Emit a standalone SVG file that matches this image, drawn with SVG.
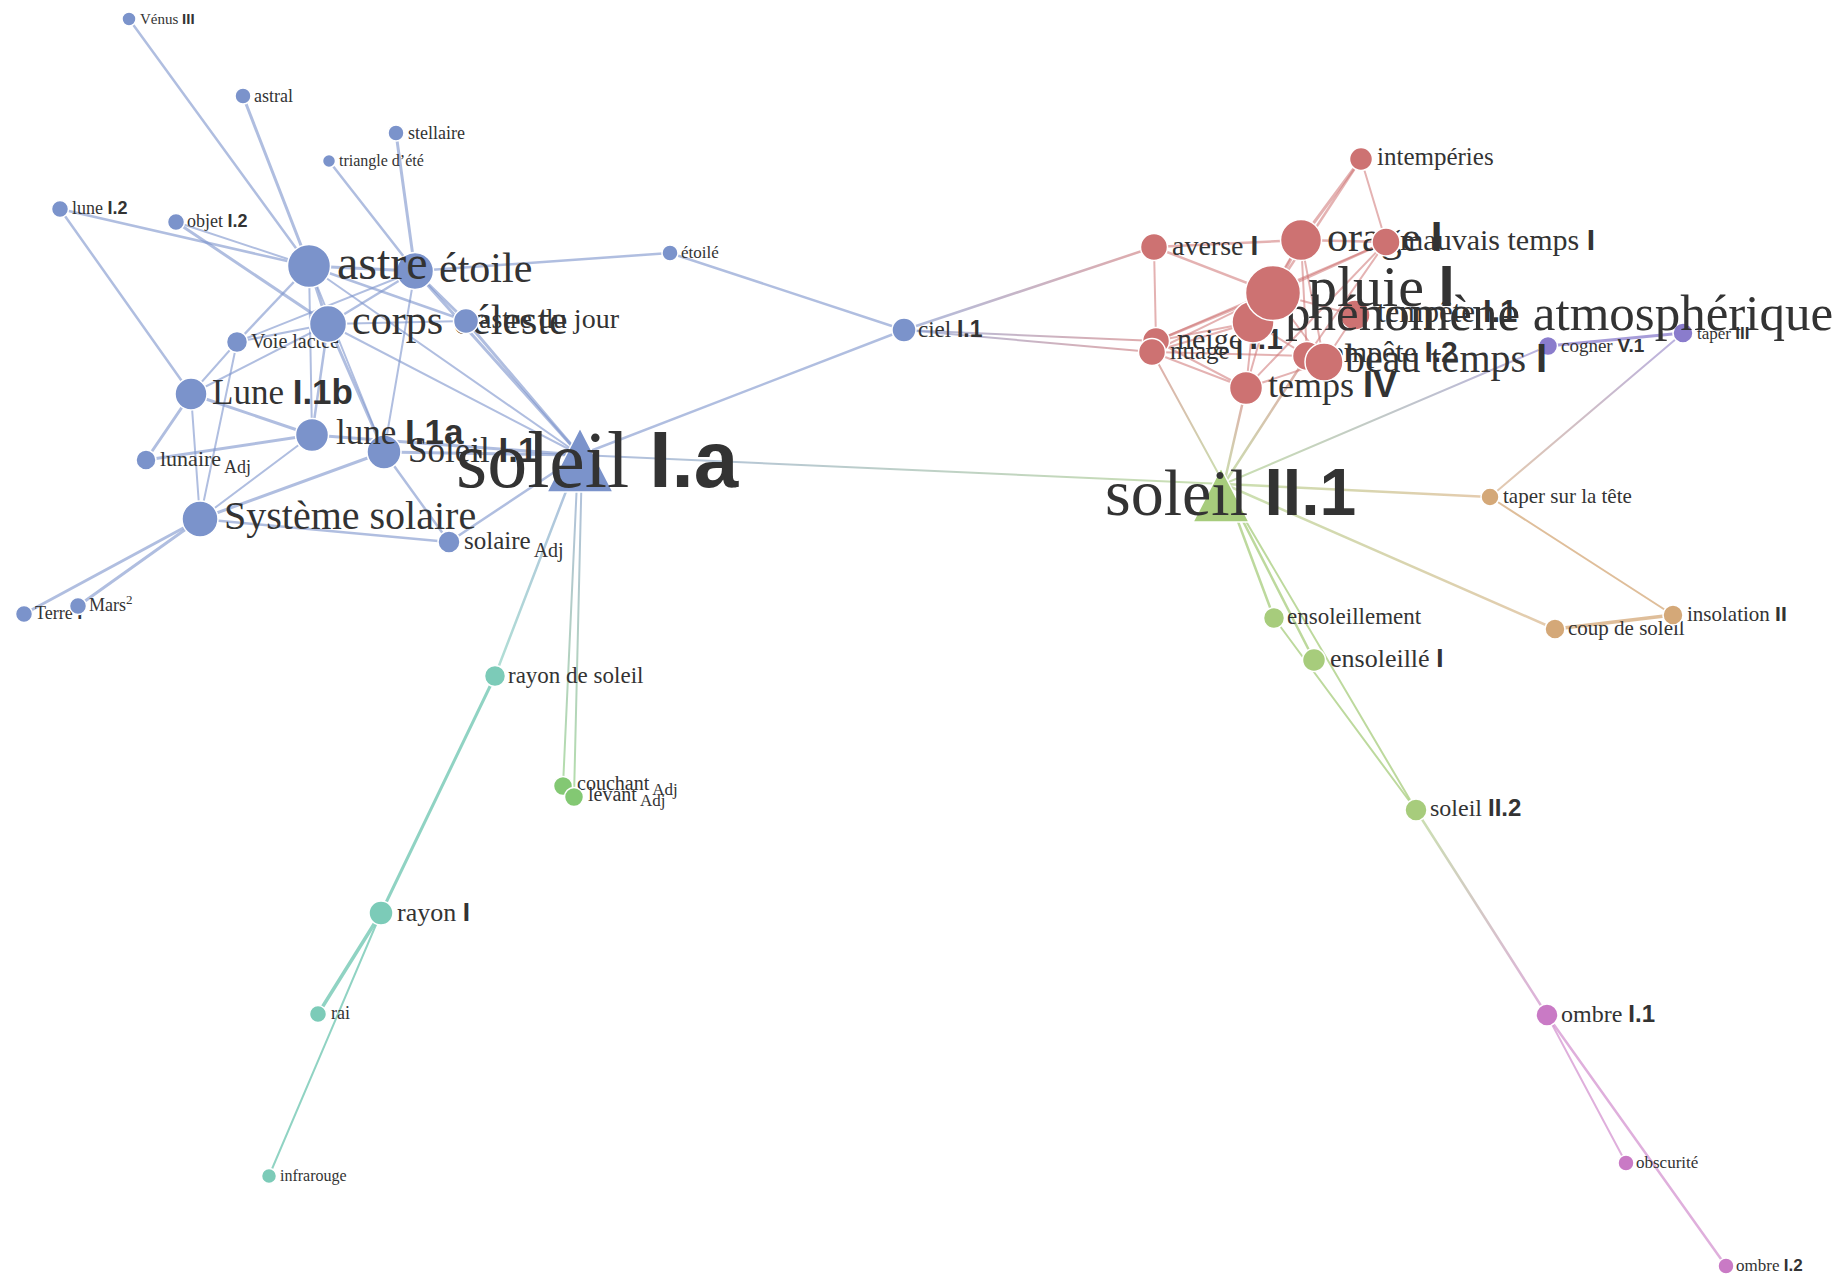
<svg xmlns="http://www.w3.org/2000/svg" width="1848" height="1274" viewBox="0 0 1848 1274">
<style>
text{font-family:"Liberation Serif","Times New Roman",serif;fill:#333;}
.s{font-family:"Liberation Sans",Arial,sans-serif;font-weight:bold;}
circle,polygon{stroke:#fff;stroke-width:1.5;}
.nb{fill:#7b93cb}.nr{fill:#cd7272}.nt{fill:#7ccbb8}.ng{fill:#a7cc7c}.ng2{fill:#83c873}.nn{fill:#d4a878}.np{fill:#8a7ccc}.nm{fill:#c97ac5}
line{stroke-linecap:round;fill:none;}
.eb{stroke:#7b93cb;stroke-opacity:.6}
.er{stroke:#cd7272;stroke-opacity:.55}
.et{stroke:#7ccbb8;stroke-opacity:.85}
.eg{stroke:#a7cc7c;stroke-opacity:.75}
.en{stroke:#d4a878;stroke-opacity:.75}
.ep{stroke:#8a7ccc;stroke-opacity:.75}
.em{stroke:#c97ac5;stroke-opacity:.6}
.ex{stroke-opacity:.6}
</style>
<defs>
<linearGradient id="g1" gradientUnits="userSpaceOnUse" x1="580" y1="455" x2="1224" y2="484"><stop offset="0" stop-color="#7b93cb"/><stop offset="1" stop-color="#a7cc7c"/></linearGradient>
<linearGradient id="g2" gradientUnits="userSpaceOnUse" x1="580" y1="455" x2="495" y2="676"><stop offset="0" stop-color="#7b93cb"/><stop offset="1" stop-color="#7ccbb8"/></linearGradient>
<linearGradient id="g3" gradientUnits="userSpaceOnUse" x1="578" y1="460" x2="563" y2="786"><stop offset="0" stop-color="#7b93cb"/><stop offset="1" stop-color="#83c873"/></linearGradient>
<linearGradient id="g4" gradientUnits="userSpaceOnUse" x1="582" y1="460" x2="574" y2="797"><stop offset="0" stop-color="#7b93cb"/><stop offset="1" stop-color="#83c873"/></linearGradient>
<linearGradient id="g5" gradientUnits="userSpaceOnUse" x1="904" y1="330" x2="1154" y2="247"><stop offset="0" stop-color="#7b93cb"/><stop offset="1" stop-color="#cd7272"/></linearGradient>
<linearGradient id="g6" gradientUnits="userSpaceOnUse" x1="904" y1="330" x2="1156" y2="341"><stop offset="0" stop-color="#7b93cb"/><stop offset="1" stop-color="#cd7272"/></linearGradient>
<linearGradient id="g8" gradientUnits="userSpaceOnUse" x1="1224" y1="484" x2="1152" y2="352"><stop offset="0" stop-color="#a7cc7c"/><stop offset="1" stop-color="#cd7272"/></linearGradient>
<linearGradient id="g9" gradientUnits="userSpaceOnUse" x1="1224" y1="484" x2="1246" y2="388"><stop offset="0" stop-color="#a7cc7c"/><stop offset="1" stop-color="#cd7272"/></linearGradient>
<linearGradient id="g10" gradientUnits="userSpaceOnUse" x1="1224" y1="484" x2="1307" y2="356"><stop offset="0" stop-color="#a7cc7c"/><stop offset="1" stop-color="#cd7272"/></linearGradient>
<linearGradient id="g11" gradientUnits="userSpaceOnUse" x1="1224" y1="484" x2="1548" y2="346"><stop offset="0" stop-color="#a7cc7c"/><stop offset="1" stop-color="#8a7ccc"/></linearGradient>
<linearGradient id="g12" gradientUnits="userSpaceOnUse" x1="1224" y1="484" x2="1490" y2="497"><stop offset="0" stop-color="#a7cc7c"/><stop offset="1" stop-color="#d4a878"/></linearGradient>
<linearGradient id="g13" gradientUnits="userSpaceOnUse" x1="1224" y1="484" x2="1555" y2="629"><stop offset="0" stop-color="#a7cc7c"/><stop offset="1" stop-color="#d4a878"/></linearGradient>
<linearGradient id="g14" gradientUnits="userSpaceOnUse" x1="1490" y1="497" x2="1683" y2="333"><stop offset="0" stop-color="#d4a878"/><stop offset="1" stop-color="#8a7ccc"/></linearGradient>
<linearGradient id="g15" gradientUnits="userSpaceOnUse" x1="1416" y1="810" x2="1547" y2="1015"><stop offset="0" stop-color="#a7cc7c"/><stop offset="1" stop-color="#c97ac5"/></linearGradient>
</defs>
<rect width="1848" height="1274" fill="#fff"/>
<g id="connectors">
<line class="eb" stroke-width="2.5" x1="129" y1="19" x2="309" y2="266"/>
<line class="eb" stroke-width="3" stroke-opacity=".8" x1="243" y1="96" x2="309" y2="266"/>
<line class="eb" stroke-width="3" stroke-opacity=".8" x1="396" y1="133" x2="415" y2="271"/>
<line class="eb" stroke-width="2.5" x1="329" y1="161" x2="415" y2="271"/>
<line class="eb" stroke-width="2.5" x1="60" y1="209" x2="309" y2="266"/>
<line class="eb" stroke-width="2.5" x1="60" y1="209" x2="191" y2="394"/>
<line class="eb" stroke-width="3" stroke-opacity=".8" x1="176" y1="222" x2="328" y2="324"/>
<line class="eb" stroke-width="2" x1="176" y1="222" x2="309" y2="266"/>
<line class="eb" stroke-width="3" x1="309" y1="266" x2="415" y2="271"/>
<line class="eb" stroke-width="3" x1="309" y1="266" x2="328" y2="324"/>
<line class="eb" stroke-width="2.5" x1="309" y1="266" x2="466" y2="321"/>
<line class="eb" stroke-width="2.5" x1="309" y1="266" x2="237" y2="342"/>
<line class="eb" stroke-width="2" x1="309" y1="266" x2="312" y2="435"/>
<line class="eb" stroke-width="2" x1="309" y1="266" x2="580" y2="455"/>
<line class="eb" stroke-width="2" x1="309" y1="266" x2="384" y2="452"/>
<line class="eb" stroke-width="2.5" x1="415" y1="271" x2="670" y2="253"/>
<line class="eb" stroke-width="2.5" x1="415" y1="271" x2="328" y2="324"/>
<line class="eb" stroke-width="3" x1="415" y1="271" x2="580" y2="455"/>
<line class="eb" stroke-width="2" x1="415" y1="271" x2="237" y2="342"/>
<line class="eb" stroke-width="2" x1="415" y1="271" x2="384" y2="452"/>
<line class="eb" stroke-width="3" x1="415" y1="271" x2="466" y2="321"/>
<line class="eb" stroke-width="2" x1="328" y1="324" x2="237" y2="342"/>
<line class="eb" stroke-width="2" x1="328" y1="324" x2="191" y2="394"/>
<line class="eb" stroke-width="2.5" x1="328" y1="324" x2="312" y2="435"/>
<line class="eb" stroke-width="3" x1="328" y1="324" x2="384" y2="452"/>
<line class="eb" stroke-width="2" x1="328" y1="324" x2="580" y2="455"/>
<line class="eb" stroke-width="2" x1="328" y1="324" x2="466" y2="321"/>
<line class="eb" stroke-width="3" x1="466" y1="321" x2="580" y2="455"/>
<line class="eb" stroke-width="2" x1="237" y1="342" x2="200" y2="519"/>
<line class="eb" stroke-width="2" x1="237" y1="342" x2="191" y2="394"/>
<line class="eb" stroke-width="3" x1="191" y1="394" x2="312" y2="435"/>
<line class="eb" stroke-width="3" x1="191" y1="394" x2="146" y2="460"/>
<line class="eb" stroke-width="2" x1="191" y1="394" x2="200" y2="519"/>
<line class="eb" stroke-width="3" x1="312" y1="435" x2="146" y2="460"/>
<line class="eb" stroke-width="2" x1="312" y1="435" x2="200" y2="519"/>
<line class="eb" stroke-width="3" x1="312" y1="435" x2="580" y2="455"/>
<line class="eb" stroke-width="3" x1="384" y1="452" x2="580" y2="455"/>
<line class="eb" stroke-width="3" x1="384" y1="452" x2="200" y2="519"/>
<line class="eb" stroke-width="2.5" x1="384" y1="452" x2="449" y2="542"/>
<line class="eb" stroke-width="2.5" x1="200" y1="519" x2="449" y2="542"/>
<line class="eb" stroke-width="3" x1="200" y1="519" x2="24" y2="614"/>
<line class="eb" stroke-width="3" x1="200" y1="519" x2="78" y2="606"/>
<line class="eb" stroke-width="2.5" x1="449" y1="542" x2="580" y2="455"/>
<line class="eb" stroke-width="2.5" x1="580" y1="455" x2="904" y2="330"/>
<line class="eb" stroke-width="2.5" x1="670" y1="253" x2="904" y2="330"/>
<line class="er" stroke-width="2.5" x1="1154" y1="247" x2="1301" y2="240"/>
<line class="er" stroke-width="2.5" x1="1154" y1="247" x2="1273" y2="293"/>
<line class="er" stroke-width="2" x1="1154" y1="247" x2="1156" y2="341"/>
<line class="er" stroke-width="3" x1="1361" y1="159" x2="1301" y2="240"/>
<line class="er" stroke-width="2.5" x1="1361" y1="159" x2="1273" y2="293"/>
<line class="er" stroke-width="2" x1="1361" y1="159" x2="1386" y2="242"/>
<line class="er" stroke-width="2.5" x1="1301" y1="240" x2="1386" y2="242"/>
<line class="er" stroke-width="3" x1="1301" y1="240" x2="1273" y2="293"/>
<line class="er" stroke-width="2" x1="1301" y1="240" x2="1253" y2="322"/>
<line class="er" stroke-width="2" x1="1301" y1="240" x2="1307" y2="356"/>
<line class="er" stroke-width="2" x1="1301" y1="240" x2="1324" y2="362"/>
<line class="er" stroke-width="2.5" x1="1386" y1="242" x2="1273" y2="293"/>
<line class="er" stroke-width="2" x1="1386" y1="242" x2="1156" y2="341"/>
<line class="er" stroke-width="2" x1="1386" y1="242" x2="1307" y2="356"/>
<line class="er" stroke-width="2" x1="1386" y1="242" x2="1246" y2="388"/>
<line class="er" stroke-width="3" x1="1273" y1="293" x2="1253" y2="322"/>
<line class="er" stroke-width="2.5" x1="1273" y1="293" x2="1156" y2="341"/>
<line class="er" stroke-width="2" x1="1273" y1="293" x2="1152" y2="352"/>
<line class="er" stroke-width="2" x1="1273" y1="293" x2="1355" y2="315"/>
<line class="er" stroke-width="2" x1="1273" y1="293" x2="1246" y2="388"/>
<line class="er" stroke-width="2" x1="1273" y1="293" x2="1324" y2="362"/>
<line class="er" stroke-width="2" x1="1253" y1="322" x2="1156" y2="341"/>
<line class="er" stroke-width="2" x1="1253" y1="322" x2="1152" y2="352"/>
<line class="er" stroke-width="2" x1="1253" y1="322" x2="1246" y2="388"/>
<line class="er" stroke-width="2" x1="1253" y1="322" x2="1307" y2="356"/>
<line class="er" stroke-width="2" x1="1156" y1="341" x2="1246" y2="388"/>
<line class="er" stroke-width="2" x1="1152" y1="352" x2="1246" y2="388"/>
<line class="er" stroke-width="2" x1="1152" y1="352" x2="1307" y2="356"/>
<line class="er" stroke-width="2" x1="1307" y1="356" x2="1324" y2="362"/>
<line class="er" stroke-width="2" x1="1355" y1="315" x2="1324" y2="362"/>
<line class="er" stroke-width="2" x1="1246" y1="388" x2="1324" y2="362"/>
<line class="ex" stroke="url(#g1)" stroke-width="2" x1="580" y1="455" x2="1224" y2="484"/>
<line class="ex" stroke="url(#g2)" stroke-width="2.5" stroke-opacity=".8" x1="580" y1="455" x2="495" y2="676"/>
<line class="ex" stroke="url(#g3)" stroke-width="2" x1="578" y1="460" x2="563" y2="786"/>
<line class="ex" stroke="url(#g4)" stroke-width="2" x1="582" y1="460" x2="574" y2="797"/>
<line class="ex" stroke="url(#g5)" stroke-width="2.5" x1="904" y1="330" x2="1154" y2="247"/>
<line class="ex" stroke="url(#g6)" stroke-width="2" x1="904" y1="330" x2="1156" y2="341"/>
<line class="ex" stroke="url(#g6)" stroke-width="2" x1="904" y1="330" x2="1152" y2="352"/>
<line class="ex" stroke="url(#g8)" stroke-width="2" x1="1224" y1="484" x2="1152" y2="352"/>
<line class="ex" stroke="url(#g9)" stroke-width="2.5" x1="1224" y1="484" x2="1246" y2="388"/>
<line class="ex" stroke="url(#g10)" stroke-width="2.5" x1="1224" y1="484" x2="1307" y2="356"/>
<line class="ex" stroke="url(#g11)" stroke-width="2" x1="1224" y1="484" x2="1548" y2="346"/>
<line class="ex" stroke="url(#g12)" stroke-width="2.5" x1="1224" y1="484" x2="1490" y2="497"/>
<line class="ex" stroke="url(#g13)" stroke-width="2.5" x1="1224" y1="484" x2="1555" y2="629"/>
<line class="ex" stroke="url(#g14)" stroke-width="2" stroke-opacity=".75" x1="1490" y1="497" x2="1683" y2="333"/>
<line class="ex" stroke="url(#g15)" stroke-width="2.5" stroke-opacity=".8" x1="1416" y1="810" x2="1547" y2="1015"/>
<line class="et" stroke-width="3" x1="495" y1="676" x2="381" y2="913"/>
<line class="et" stroke-width="3.5" x1="381" y1="913" x2="318" y2="1014"/>
<line class="et" stroke-width="2" stroke-opacity=".6" x1="381" y1="913" x2="269" y2="1176"/>
<line class="eg" stroke-width="2.5" x1="1224" y1="484" x2="1274" y2="618"/>
<line class="eg" stroke-width="2.5" x1="1224" y1="484" x2="1314" y2="660"/>
<line class="eg" stroke-width="2" x1="1224" y1="484" x2="1416" y2="810"/>
<line class="eg" stroke-width="2" x1="1274" y1="618" x2="1416" y2="810"/>
<line class="en" stroke-width="2" x1="1490" y1="497" x2="1673" y2="615"/>
<line class="en" stroke-width="3.5" x1="1555" y1="629" x2="1673" y2="615"/>
<line class="ep" stroke-width="3" x1="1548" y1="346" x2="1683" y2="333"/>
<line class="em" stroke-width="2" x1="1547" y1="1015" x2="1626" y2="1163"/>
<line class="em" stroke-width="2.5" x1="1547" y1="1015" x2="1726" y2="1266"/>
</g>
<g id="nodes">
<g id="n-venus"><circle class="nb" cx="129" cy="19" r="7"/><text x="140" y="24" font-size="15">Vénus <tspan class="s">III</tspan></text></g>
<g id="n-astral"><circle class="nb" cx="243" cy="96" r="8"/><text x="254" y="102" font-size="18">astral</text></g>
<g id="n-stellaire"><circle class="nb" cx="396" cy="133" r="8"/><text x="408" y="139" font-size="18">stellaire</text></g>
<g id="n-triangle"><circle class="nb" cx="329" cy="161" r="6.5"/><text x="339" y="166" font-size="16">triangle d’été</text></g>
<g id="n-lune2"><circle class="nb" cx="60" cy="209" r="8.5"/><text x="72" y="214" font-size="18">lune <tspan class="s">I.2</tspan></text></g>
<g id="n-objet"><circle class="nb" cx="176" cy="222" r="8.5"/><text x="187" y="227" font-size="18">objet <tspan class="s">I.2</tspan></text></g>
<g id="n-etoile2"><circle class="nb" cx="670" cy="253" r="8"/><text x="681" y="258" font-size="17">étoilé</text></g>
<g id="n-ciel"><circle class="nb" cx="904" cy="330" r="12"/><text x="918" y="337" font-size="23">ciel <tspan class="s">I.1</tspan></text></g>
<g id="n-terre"><circle class="nb" cx="24" cy="614" r="8.5"/><text x="35" y="619" font-size="18">Terre <tspan class="s">I</tspan></text></g>
<g id="n-mars"><circle class="nb" cx="78" cy="606" r="8.5"/><text x="89" y="611" font-size="18">Mars<tspan font-size="13" dy="-7">2</tspan></text></g>
<g id="n-lunaire"><circle class="nb" cx="146" cy="460" r="10"/><text x="160" y="466" font-size="22">lunaire<tspan font-size="18" dx="3" dy="7">Adj</tspan></text></g>
<g id="n-solaire"><circle class="nb" cx="449" cy="542" r="11"/><text x="464" y="549" font-size="25">solaire<tspan font-size="20" dx="3" dy="8">Adj</tspan></text></g>
<g id="n-voie"><circle class="nb" cx="237" cy="342" r="10.5"/><text x="251" y="348" font-size="20">Voie lactée</text></g>
<g id="n-systeme"><circle class="nb" cx="200" cy="519" r="18"/><text x="224" y="529" font-size="40">Système solaire</text></g>
<g id="n-lune1b"><circle class="nb" cx="191" cy="394" r="16"/><text x="212" y="404" font-size="35">Lune <tspan class="s">I.1b</tspan></text></g>
<g id="n-soleil11"><circle class="nb" cx="384" cy="452" r="17"/><text x="408" y="462" font-size="35">Soleil <tspan class="s">I.1</tspan></text></g>
<g id="n-lune1a"><circle class="nb" cx="312" cy="435" r="16.5"/><text x="336" y="444" font-size="35">lune <tspan class="s">I.1a</tspan></text></g>
<g id="n-corps"><circle class="nb" cx="328" cy="324" r="18.5"/><text x="352" y="334" font-size="42">corps céleste</text></g>
<g id="n-jour"><circle class="nb" cx="466" cy="321" r="12.5"/><text x="479" y="328" font-size="28">astre du jour</text></g>
<g id="n-etoile"><circle class="nb" cx="415" cy="271" r="18.5"/><text x="439" y="282" font-size="42">étoile</text></g>
<g id="n-astre"><circle class="nb" cx="309" cy="266" r="21.5"/><text x="337" y="279" font-size="48">astre</text></g>
<g id="n-soleilIa"><polygon class="nb" points="580,428 547,492 613,492"/><text x="456" y="487" font-size="80">soleil <tspan class="s">I.a</tspan></text></g>
<g id="n-rayondesoleil"><circle class="nt" cx="495" cy="676" r="10.5"/><text x="508" y="683" font-size="23">rayon de soleil</text></g>
<g id="n-rayon"><circle class="nt" cx="381" cy="913" r="12"/><text x="397" y="921" font-size="26">rayon <tspan class="s">I</tspan></text></g>
<g id="n-rai"><circle class="nt" cx="318" cy="1014" r="8.5"/><text x="331" y="1019" font-size="18">rai</text></g>
<g id="n-infrarouge"><circle class="nt" cx="269" cy="1176" r="7.5"/><text x="280" y="1181" font-size="16">infrarouge</text></g>
<g id="n-couchant"><circle class="ng2" cx="563" cy="786" r="9.5"/><text x="577" y="790" font-size="20">couchant<tspan font-size="17" dx="3" dy="5">Adj</tspan></text></g>
<g id="n-levant"><circle class="ng2" cx="574" cy="797" r="9.5"/><text x="588" y="801" font-size="20">levant<tspan font-size="17" dx="3" dy="5">Adj</tspan></text></g>
<g id="n-ensoleillement"><circle class="ng" cx="1274" cy="618" r="10.5"/><text x="1287" y="624" font-size="23">ensoleillement</text></g>
<g id="n-ensoleille"><circle class="ng" cx="1314" cy="660" r="11.5"/><text x="1330" y="667" font-size="26">ensoleillé <tspan class="s">I</tspan></text></g>
<g id="n-soleil22"><circle class="ng" cx="1416" cy="810" r="11"/><text x="1430" y="816" font-size="24">soleil <tspan class="s">II.2</tspan></text></g>
<g id="n-taper"><circle class="nn" cx="1490" cy="497" r="9"/><text x="1503" y="503" font-size="21">taper sur la tête</text></g>
<g id="n-coup"><circle class="nn" cx="1555" cy="629" r="10"/><text x="1568" y="635" font-size="21">coup de soleil</text></g>
<g id="n-insolation"><circle class="nn" cx="1673" cy="615" r="10"/><text x="1687" y="621" font-size="21">insolation <tspan class="s">II</tspan></text></g>
<g id="n-cogner"><circle class="np" cx="1548" cy="346" r="9.5"/><text x="1561" y="352" font-size="19">cogner <tspan class="s">V.1</tspan></text></g>
<g id="n-taper3"><circle class="np" cx="1683" cy="333" r="10"/><text x="1697" y="339" font-size="17">taper <tspan class="s">III</tspan></text></g>
<g id="n-ombre11"><circle class="nm" cx="1547" cy="1015" r="11"/><text x="1561" y="1022" font-size="24">ombre <tspan class="s">I.1</tspan></text></g>
<g id="n-obscurite"><circle class="nm" cx="1626" cy="1163" r="8"/><text x="1636" y="1168" font-size="17">obscurité</text></g>
<g id="n-ombre12"><circle class="nm" cx="1726" cy="1266" r="8"/><text x="1736" y="1271" font-size="17">ombre <tspan class="s">I.2</tspan></text></g>
<g id="n-intemperies"><circle class="nr" cx="1361" cy="159" r="11.5"/><text x="1377" y="165" font-size="25">intempéries</text></g>
<g id="n-averse"><circle class="nr" cx="1154" cy="247" r="13.5"/><text x="1172" y="255" font-size="28">averse <tspan class="s">I</tspan></text></g>
<g id="n-neige"><circle class="nr" cx="1156" cy="341" r="13.5"/><text x="1177" y="349" font-size="30">neige <tspan class="s">I.1</tspan></text></g>
<g id="n-nuage"><circle class="nr" cx="1152" cy="352" r="13.5"/><text x="1170" y="359" font-size="25">nuage <tspan class="s">I</tspan></text></g>
<g id="n-tempete1"><circle class="nr" cx="1355" cy="315" r="15"/><text x="1377" y="322" font-size="31">tempête <tspan class="s">I.1</tspan></text></g>
<g id="n-phenomene"><circle class="nr" cx="1253" cy="322" r="21"/><text x="1285" y="330" font-size="51">phénomène atmosphérique</text></g>
<g id="n-pluie"><circle class="nr" cx="1273" cy="293" r="27.5"/><text x="1308" y="306" font-size="58">pluie <tspan class="s">I</tspan></text></g>
<g id="n-orage"><circle class="nr" cx="1301" cy="240" r="20.5"/><text x="1327" y="251" font-size="42">orage <tspan class="s">I</tspan></text></g>
<g id="n-mauvais"><circle class="nr" cx="1386" cy="242" r="14"/><text x="1400" y="250" font-size="30">mauvais temps <tspan class="s">I</tspan></text></g>
<g id="n-temps4"><circle class="nr" cx="1246" cy="388" r="16.5"/><text x="1268" y="397" font-size="36">temps <tspan class="s">IV</tspan></text></g>
<g id="n-tempete2"><circle class="nr" cx="1307" cy="356" r="14.5"/><text x="1322" y="362" font-size="30">tempête <tspan class="s">I.2</tspan></text></g>
<g id="n-beautemps"><circle class="nr" cx="1324" cy="362" r="19"/><text x="1345" y="372" font-size="40">beau temps <tspan class="s">I</tspan></text></g>
<g id="n-soleilII1"><polygon class="ng" points="1221,468 1193,522 1249,522"/><text x="1105" y="515" font-size="66">soleil <tspan class="s">II.1</tspan></text></g>
</g>
</svg>
